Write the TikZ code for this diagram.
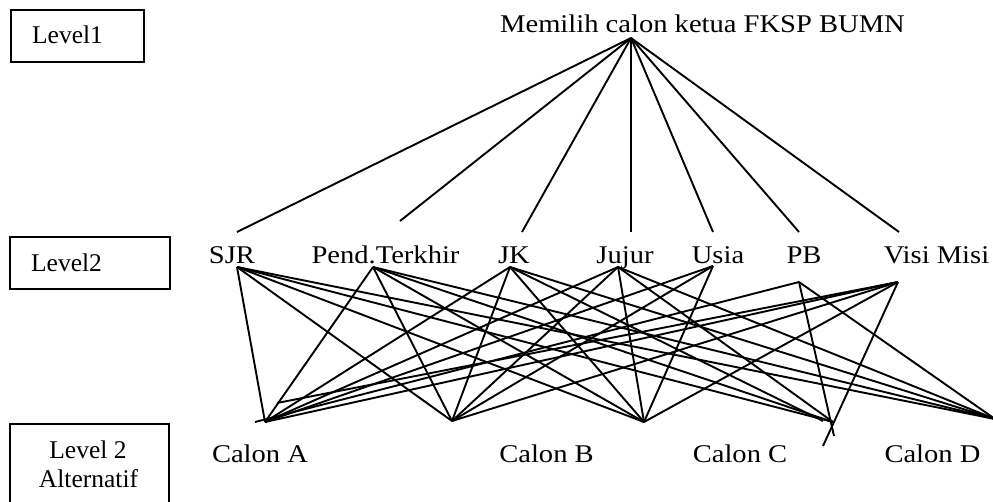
\documentclass[tikz,border=0pt]{standalone}
\usepackage{fontspec}
\setmainfont{Liberation Serif}
\newfontfamily\pal[FakeStretch=1.12]{Liberation Serif}
\begin{document}
\begin{tikzpicture}[x=1pt,y=-1pt,
  line width=1.9pt,
  lbl/.style={font=\pal\fontsize{25.5}{30}\selectfont, inner sep=0pt, anchor=base},
  lvl/.style={font=\fontsize{25.5}{30}\selectfont, inner sep=0pt, anchor=base},
  box/.style={draw, line width=1.9pt, inner sep=0pt, anchor=north west},
  edge/.style={line width=1.9pt}]
\useasboundingbox (0,0) rectangle (993,501);
\clip (0,0) rectangle (993,501);

% level boxes
\node[box, minimum width=133pt, minimum height=52pt] (L1) at (10,9) {};
\node[lvl] (L1t) at (67.5,43) {Level1};
\node[box, minimum width=160pt, minimum height=52pt] (L2) at (9,236) {};
\node[lvl] (L2t) at (66.5,271) {Level2};
\node[box, minimum width=159pt, minimum height=90pt] (L3) at (9,423) {};
\node[lvl] (L3a) at (88,458) {Level 2};
\node[lvl] (L3b) at (88.5,487) {Alternatif};

% labels
\node[lbl] (goal) at (702.5,32) {Memilih calon ketua FKSP BUMN};
\node[lbl] (SJR) at (232,263) {SJR};
\node[lbl] (PT) at (385.5,263) {Pend.Terkhir};
\node[lbl] (JK) at (514,263) {JK};
\node[lbl] (JU) at (625,263) {Jujur};
\node[lbl] (US) at (718,263) {Usia};
\node[lbl] (PB) at (804,263) {PB};
\node[lbl] (VM) at (936.5,263) {Visi Misi};
\node[lbl] (CA) at (260,462) {Calon A};
\node[lbl] (CB) at (546.5,462) {Calon B};
\node[lbl] (CC) at (740,462) {Calon C};
\node[lbl] (CD) at (932.5,462) {Calon D};

% connection points
\coordinate (apex) at (631,38);
\coordinate (t1) at (237,232);
\coordinate (t2) at (400,221);
\coordinate (t3) at (522,232);
\coordinate (t4) at (631,232);
\coordinate (t5) at (713,232);
\coordinate (t6) at (799,232);
\coordinate (t7) at (899,232);
\coordinate (b1) at (237,267);
\coordinate (b2) at (373,267);
\coordinate (b3) at (510,267);
\coordinate (b4) at (618,267);
\coordinate (b5) at (713,266);
\coordinate (b6) at (799,282);
\coordinate (b7) at (898,282);
\coordinate (pA) at (265,422);
\coordinate (pB) at (452,421);
\coordinate (pC) at (644,422);
\coordinate (pD) at (833,422);
\coordinate (pE) at (995,419);
\coordinate (pA2) at (255,422);
\coordinate (pA3) at (277,403);
\coordinate (pD2) at (834,436);
\coordinate (pD3) at (823,446);
\coordinate (pD4) at (823,421);

% level 1 -> level 2
\foreach \t in {t1,t2,t3,t4,t5,t6,t7} \draw[edge] (apex) -- (\t);

% level 2 -> alternatives
\foreach \b in {b1,b2,b4} \foreach \p in {pA,pB,pC,pD,pE} \draw[edge] (\b) -- (\p);
\foreach \p in {pA,pB,pC,pD4,pE} \draw[edge] (b3) -- (\p);
\foreach \p in {pA,pB,pC} \draw[edge] (b5) -- (\p);
\foreach \p in {pA2,pD2,pE} \draw[edge] (b6) -- (\p);
\foreach \p in {pA3,pA,pB,pC,pD3} \draw[edge] (b7) -- (\p);
\end{tikzpicture}
\end{document}
